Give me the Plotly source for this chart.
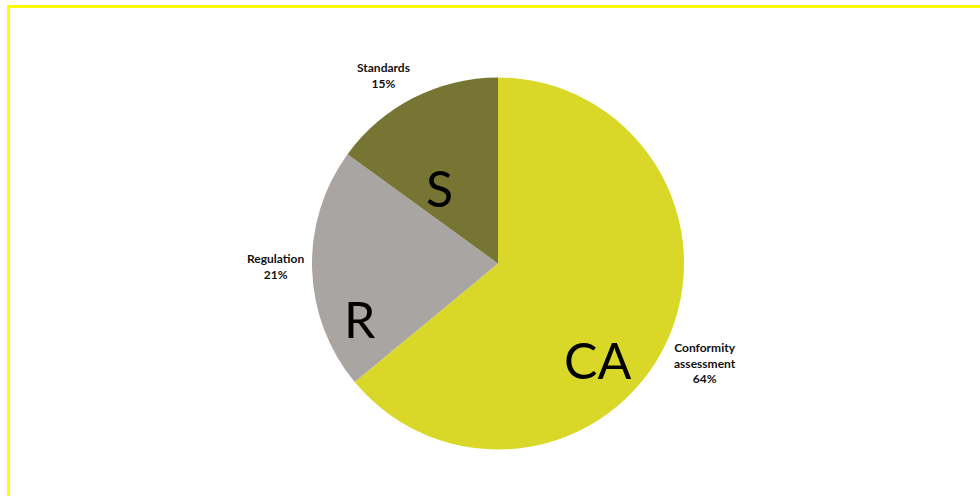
import plotly.graph_objects as go

W, H = 980, 496

categories = ["Conformity assessment", "Regulation", "Standards"]
label_lines = ["Conformity<br>assessment", "Regulation", "Standards"]
values = [64, 21, 15]
short_labels = ["CA", "R", "S"]
colors = ["#D9D828", "#A9A5A2", "#767533"]

fig = go.Figure()
fig.add_trace(go.Pie(
    labels=categories,
    values=values,
    sort=False,
    direction="clockwise",
    rotation=0,
    marker=dict(colors=colors, line=dict(width=0)),
    textinfo="none",
    showlegend=False,
    domain=dict(x=[312 / W, 684 / W], y=[1 - 450 / H, 1 - 77 / H]),
    hoverinfo="label+percent",
))

def px(x):
    return x / W

def py(y):
    return 1 - y / H

# outside labels (name + percentage)
label_pos = [(705, 363), (275, 266), (383, 76)]
for name, v, (x, y) in zip(label_lines, values, label_pos):
    fig.add_annotation(
        x=px(x), y=py(y), xref="paper", yref="paper",
        text=f"<b>{name}</b><br><b>{v}%</b>",
        showarrow=False, xanchor="center", yanchor="middle",
        font=dict(family="Lato", size=12, color="#111111"),
        align="center",
    )

# big letters inside slices
letter_pos = [(597, 360), (360, 319), (439, 188)]
for s, (x, y) in zip(short_labels, letter_pos):
    fig.add_annotation(
        x=px(x), y=py(y), xref="paper", yref="paper",
        text=s, showarrow=False, xanchor="center", yanchor="middle",
        font=dict(family="Lato", size=50, color="#000000"),
    )

# yellow frame (top and left edges)
fig.add_shape(type="rect", xref="paper", yref="paper",
              x0=px(7), x1=1.0, y0=py(8), y1=py(5),
              fillcolor="#FFFF00", line=dict(width=0))
fig.add_shape(type="rect", xref="paper", yref="paper",
              x0=px(7), x1=px(10), y0=0, y1=py(5),
              fillcolor="#FFFF00", line=dict(width=0))

fig.update_layout(
    width=W, height=H,
    margin=dict(l=0, r=0, t=0, b=0),
    paper_bgcolor="white", plot_bgcolor="white",
    showlegend=False,
)

fig.write_html(
    "out.html",
    config={"displayModeBar": False},
    post_script="document.body.style.margin='0';document.body.style.overflow='hidden';",
)
